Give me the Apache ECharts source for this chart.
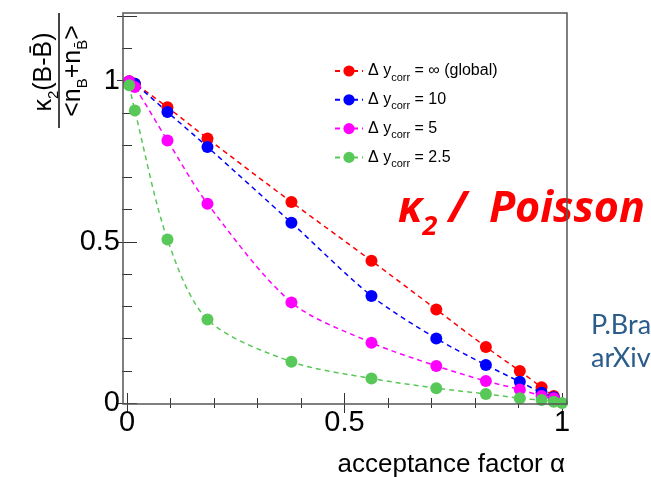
<!DOCTYPE html>
<html>
<head>
<meta charset="utf-8">
<script src="https://cdn.jsdelivr.net/npm/echarts@6/dist/echarts.min.js"></script>
<style>
  html, body { margin: 0; padding: 0; background: #fff; }
  #chart { width: 651px; height: 477px; }
</style>
</head>
<body>
<div id="chart"></div>
<script>
// acceptance factor alpha (shared x positions)
var alpha = [0.005, 0.018, 0.093, 0.185, 0.378, 0.562, 0.711, 0.825, 0.903, 0.953, 0.981, 1.0];
// kappa2 / Poisson for each Delta y_corr
var yGlobal = [0.998, 0.99, 0.917, 0.82, 0.623, 0.441, 0.29, 0.174, 0.099, 0.049, 0.022];
var y10 = [0.997, 0.99, 0.902, 0.794, 0.559, 0.332, 0.2, 0.118, 0.066, 0.032, 0.018];
var y5 = [0.998, 0.98, 0.814, 0.618, 0.312, 0.187, 0.115, 0.068, 0.042, 0.022, 0.015];
var y25 = [0.985, 0.907, 0.507, 0.259, 0.128, 0.076, 0.046, 0.028, 0.015, 0.009, 0.004, 0.0];
var seriesNames = ['Δ y_corr = ∞ (global)', 'Δ y_corr = 10', 'Δ y_corr = 5', 'Δ y_corr = 2.5'];
var seriesColors = ['#ff0000', '#0000ff', '#ff00ff', '#58c858'];
var xTickLabels = ['0', '0.5', '1'];
var yTickLabels = ['0', '0.5', '1'];

var FONT = 'Liberation Sans';

function pts(vals) {
  return vals.map(function (v, i) { return [alpha[i], v]; });
}

function tickFmt(labels) {
  return function (v) {
    var s = String(Math.round(v * 100) / 100);
    return labels.indexOf(s) >= 0 ? s : '';
  };
}

var myChart = echarts.init(document.getElementById('chart'));

var allData = [yGlobal, y10, y5, y25];
var series = allData.map(function (vals, i) {
  return {
    name: seriesNames[i],
    type: 'line',
    xAxisIndex: 0,
    yAxisIndex: 0,
    data: pts(vals),
    smooth: 0.3,
    symbol: 'circle',
    symbolSize: 12,
    lineStyle: { color: seriesColors[i], width: 1.5, type: [5, 4] },
    itemStyle: { color: seriesColors[i] },
    z: 3 + i
  };
});

// tick axes: major (0.5) long ticks, minor (0.1) short ticks, on all four sides
function xAx(pos, interval, len, offset, showLabel) {
  return {
    type: 'value', position: pos, min: 0, max: 1, interval: interval, offset: offset,
    axisLine: { show: false },
    splitLine: { show: false },
    axisTick: { show: true, inside: true, length: len, lineStyle: { color: '#333', width: 1 } },
    axisLabel: {
      show: showLabel, margin: 4, fontSize: 29, fontFamily: FONT, color: '#000',
      formatter: tickFmt(xTickLabels)
    }
  };
}
function yAx(pos, interval, len, offset, showLabel) {
  return {
    type: 'value', position: pos, min: 0, max: 1.2, interval: interval, offset: offset,
    axisLine: { show: false },
    splitLine: { show: false },
    axisTick: { show: true, inside: true, length: len, lineStyle: { color: '#333', width: 1 } },
    axisLabel: {
      show: showLabel, margin: 3, fontSize: 29, fontFamily: FONT, color: '#000',
      formatter: tickFmt(yTickLabels)
    }
  };
}

var option = {
  animation: false,
  backgroundColor: '#fff',
  grid: { left: 127, right: 89, top: 16, bottom: 74, containLabel: false, outerBoundsMode: 'none' },
  xAxis: [
    xAx('bottom', 0.5, 10, 1, true),
    xAx('bottom', 0.1, 5, 1, false),
    xAx('top', 0.5, 10, 3, false),
    xAx('top', 0.1, 5, 3, false)
  ],
  yAxis: [
    yAx('left', 0.5, 10, 4, true),
    yAx('left', 0.1, 5, 4, false),
    yAx('right', 0.5, 10, 5, false),
    yAx('right', 0.1, 5, 5, false)
  ],
  legend: {
    orient: 'vertical',
    left: 329,
    top: 58,
    itemWidth: 28,
    itemHeight: 14,
    itemGap: 8.8,
    data: seriesNames,
    formatter: function (name) {
      var tail = name.split('_corr')[1];
      return '{a|Δ y}{s|corr}{a|' + tail + '}';
    },
    textStyle: {
      fontFamily: FONT, fontSize: 16, color: '#000',
      rich: {
        a: { fontFamily: FONT, fontSize: 16, lineHeight: 24, color: '#000' },
        s: { fontFamily: FONT, fontSize: 11, lineHeight: 11, color: '#000', verticalAlign: 'bottom' }
      }
    }
  },
  graphic: [
    {
      type: 'rect',
      shape: { x: 123, y: 13, width: 444, height: 391 },
      style: { fill: 'none', stroke: '#555', lineWidth: 1.5 },
      z: 30
    },
    {
      type: 'text',
      x: 565, y: 452,
      style: {
        text: 'acceptance factor α', fontFamily: FONT, fontSize: 26, fill: '#000',
        align: 'right', verticalAlign: 'top'
      }
    },
    {
      type: 'group',
      x: 59, y: 70,
      rotation: Math.PI / 2,
      children: [
        {
          type: 'line',
          shape: { x1: -58, y1: 0, x2: 57, y2: 0 },
          style: { stroke: '#444', lineWidth: 2 }
        },
        {
          type: 'text',
          x: -2, y: -15,
          style: {
            text: '{t|κ}{s|2}{t|(B-B\u0304)}',
            align: 'center', verticalAlign: 'middle',
            rich: {
              t: { fontFamily: FONT, fontSize: 25, lineHeight: 34, fill: '#000' },
              s: { fontFamily: FONT, fontSize: 15, lineHeight: 15, fill: '#000', verticalAlign: 'bottom' }
            }
          }
        },
        {
          type: 'text',
          x: -1, y: 14,
          style: {
            text: '{t|<n}{s|B}{t|+n}{s|B\u0304}{t|>}',
            align: 'center', verticalAlign: 'middle',
            rich: {
              t: { fontFamily: FONT, fontSize: 25, lineHeight: 34, fill: '#000' },
              s: { fontFamily: FONT, fontSize: 15, lineHeight: 15, fill: '#000', verticalAlign: 'bottom' }
            }
          }
        }
      ]
    },
    {
      type: 'text',
      x: 398, y: 210,
      z: 20,
      style: {
        text: '{b|κ}{s|2}{b| /  Poisson}',
        verticalAlign: 'middle',
        rich: {
          b: { fontFamily: 'Open Sans', fontSize: 43, lineHeight: 62, fontWeight: 'bold', fontStyle: 'italic', fill: '#ff0000' },
          s: { fontFamily: 'Open Sans', fontSize: 27, lineHeight: 27, fontWeight: 'bold', fontStyle: 'italic', fill: '#ff0000', verticalAlign: 'bottom' }
        }
      }
    },
    {
      type: 'text',
      x: 591, y: 325, z: 20,
      style: { text: 'P.Braun-Munzinger', fontFamily: 'Lato', fontSize: 27, fill: '#2b5c8a', verticalAlign: 'middle' }
    },
    {
      type: 'text',
      x: 591, y: 358, z: 20,
      style: { text: 'arXiv', fontFamily: 'Lato', fontSize: 27, fill: '#2b5c8a', verticalAlign: 'middle' }
    }
  ],
  series: series
};

myChart.setOption(option);
</script>
</body>
</html>
